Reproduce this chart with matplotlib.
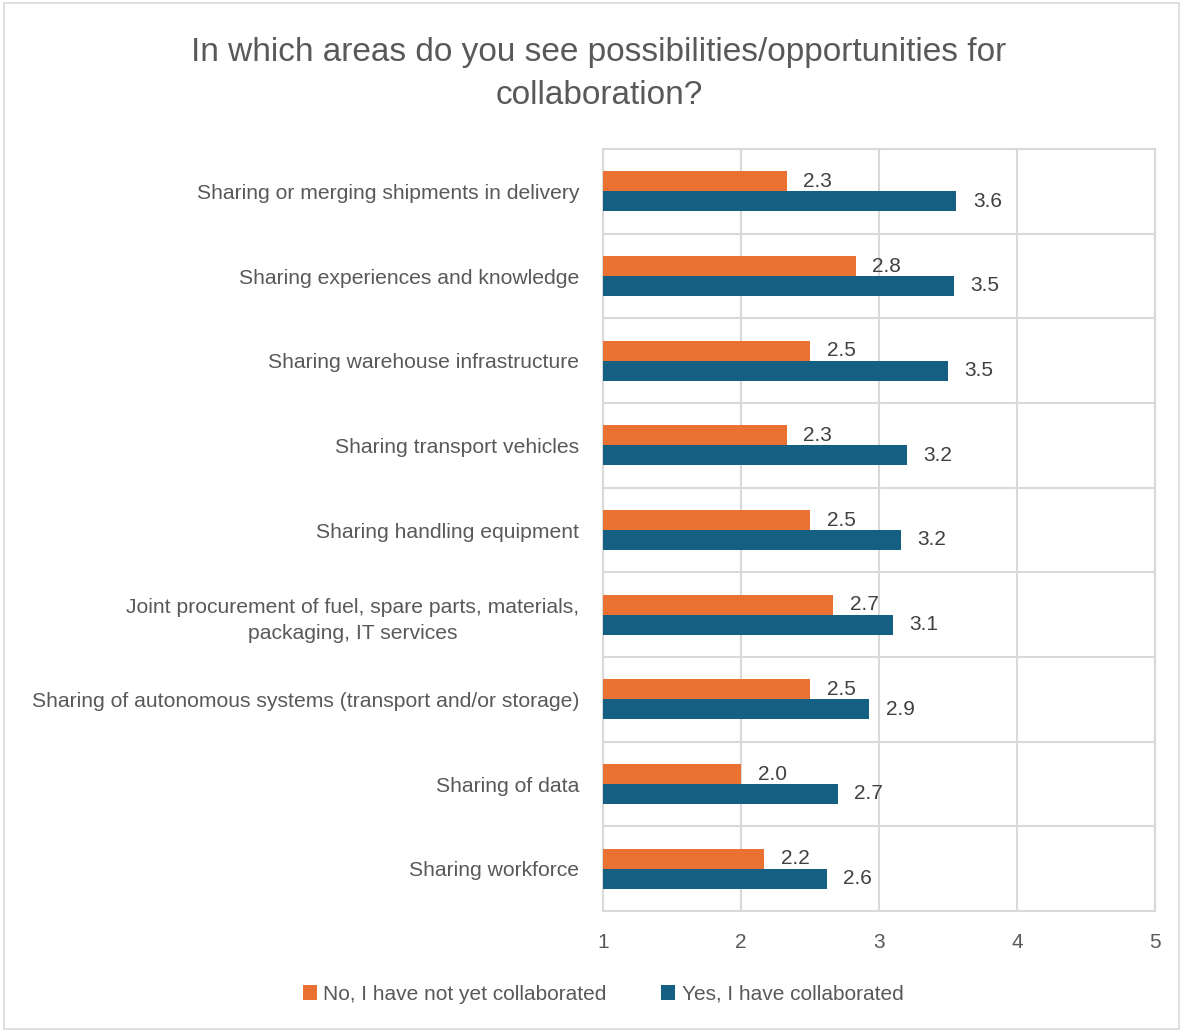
import matplotlib
matplotlib.use("Agg")
import matplotlib.pyplot as plt
from matplotlib.patches import Patch, Rectangle
import numpy as np

plt.rcParams['font.family'] = ['Liberation Sans', 'DejaVu Sans']

categories = [
    "Sharing or merging shipments in delivery",
    "Sharing experiences and knowledge",
    "Sharing warehouse infrastructure",
    "Sharing transport vehicles",
    "Sharing handling equipment",
    "Joint procurement of fuel, spare parts, materials,\npackaging, IT services",
    "Sharing of autonomous systems (transport and/or storage)",
    "Sharing of data",
    "Sharing workforce",
]
no_values = [2.33, 2.83, 2.50, 2.33, 2.50, 2.67, 2.50, 2.00, 2.17]
yes_values = [3.56, 3.54, 3.50, 3.20, 3.16, 3.10, 2.93, 2.70, 2.62]
series_names = ["No, I have not yet collaborated", "Yes, I have collaborated"]
x_ticks = [1, 2, 3, 4, 5]
title = "In which areas do you see possibilities/opportunities for\ncollaboration?"

c_no = "#E97132"
c_yes = "#156082"
grid_c = "#D9D9D9"
text_c = "#595959"
label_c = "#404040"

fig = plt.figure(figsize=(11.83, 10.32), dpi=100)
ax = fig.add_axes([603/1183, 1-911/1032, (1155-603)/1183, (911-149)/1032])

n = len(categories)
y = np.arange(n)
h = 0.236
off = 0.118
ax.barh(y - off, no_values, height=h, left=0, color=c_no, zorder=3)
ax.barh(y + off, yes_values, height=h, left=0, color=c_yes, zorder=3)

for yi, v in zip(y, no_values):
    ax.annotate(f"{v:.1f}", (v, yi - off), xytext=(12, 0), textcoords="offset points",
                va="center", ha="left", fontsize=15, color=label_c)
for yi, v in zip(y, yes_values):
    ax.annotate(f"{v:.1f}", (v, yi + off), xytext=(12, 0), textcoords="offset points",
                va="center", ha="left", fontsize=15, color=label_c)

ax.set_xlim(1, 5)
ax.set_ylim(n - 0.5, -0.5)
ax.set_xticks(x_ticks)
ax.set_xticklabels([str(t) for t in x_ticks])
ax.set_yticks(y)
ax.set_yticklabels(categories, fontsize=15.2, color=text_c, ha="right")
ax.tick_params(axis="x", labelsize=15, labelcolor=text_c, length=0, pad=16)
ax.tick_params(axis="y", length=0, pad=17)
for lbl in ax.get_yticklabels():
    lbl.set_multialignment("center")
    lbl.set_linespacing(1.5)

ax.set_yticks(np.arange(-0.5, n, 1), minor=True)
ax.grid(axis="x", which="major", color=grid_c, linewidth=1.5, zorder=0)
ax.grid(axis="y", which="minor", color=grid_c, linewidth=1.5, zorder=0)
ax.tick_params(which="minor", length=0)
for s in ax.spines.values():
    s.set_color(grid_c)
    s.set_linewidth(1.5)

fig.text(599/1183, 1-73.5/1032, title, ha="center", va="center", fontsize=24,
         color=text_c, linespacing=1.5)

handles = [Patch(facecolor=c_no), Patch(facecolor=c_yes)]
fig.legend(handles, series_names, loc="center", bbox_to_anchor=(603/1183, 1-994/1032),
           ncol=2, frameon=False, fontsize=15, labelcolor=text_c, handlelength=0.7,
           handleheight=0.7, handletextpad=0.3, columnspacing=2.6)

fig.patches.append(Rectangle((0.003, 0.003), 0.994, 0.994, transform=fig.transFigure,
                             fill=False, edgecolor="#D9D9D9", linewidth=1.2))

fig.savefig("out.png", dpi=100, facecolor="white")
